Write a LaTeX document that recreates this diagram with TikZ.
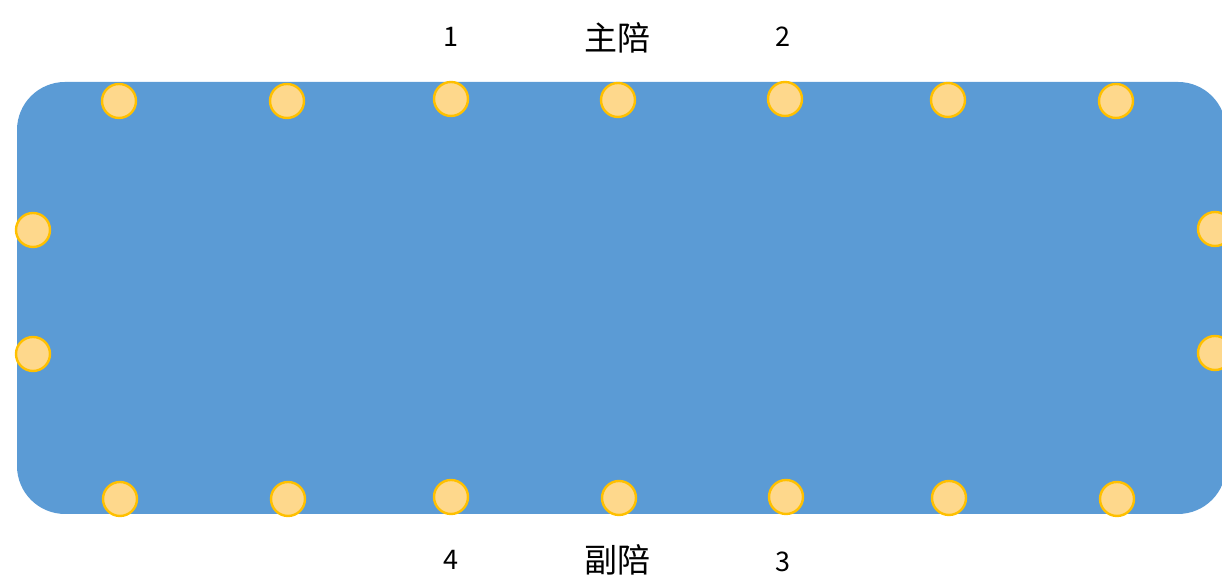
\documentclass[tikz,border=0pt]{standalone}
\usepackage{fontspec}
\newfontfamily\cjk{Noto Sans CJK SC}
\definecolor{tableblue}{RGB}{91,155,213}
\definecolor{seatfill}{RGB}{254,216,140}
\definecolor{seatline}{RGB}{255,192,0}
\tikzset{
  seat/.style={circle,fill=seatfill,draw=seatline,line width=1.2pt,minimum size=17pt,inner sep=0pt},
  nr/.style={font=\cjk\fontsize{13.5}{13.5}\selectfont},
  role/.style={font=\cjk\fontsize{16.5}{16.5}\selectfont}
}
\begin{document}
\begin{tikzpicture}[x=0.5pt,y=0.5pt]
  \useasboundingbox (0,0) rectangle (1222,576);
  \clip (0,0) rectangle (1222,576);
  % table
  \fill[tableblue,rounded corners=24pt] (17,62) rectangle (1226,494);
  % seats along the top
  \node[seat] (t1) at (119,475) {};
  \node[seat] (t2) at (287,475) {};
  \node[seat] (t3) at (451,477) {};
  \node[seat] (t4) at (618,476) {};
  \node[seat] (t5) at (785,477) {};
  \node[seat] (t6) at (948,476) {};
  \node[seat] (t7) at (1116,475) {};
  % seats along the bottom
  \node[seat] (b1) at (120,77) {};
  \node[seat] (b2) at (288,77) {};
  \node[seat] (b3) at (451,79) {};
  \node[seat] (b4) at (619,78) {};
  \node[seat] (b5) at (786,79) {};
  \node[seat] (b6) at (949,78) {};
  \node[seat] (b7) at (1117,77) {};
  % seats at the ends
  \node[seat] (l1) at (33,346) {};
  \node[seat] (l2) at (33,222) {};
  \node[seat] (r1) at (1215,347) {};
  \node[seat] (r2) at (1215,223) {};
  % labels
  \draw
    (451,539) node[nr] (n1){1}
    (617,538) node[role] (host){主陪}
    (783,539) node[nr] (n2){2}
    (451,16) node[nr] (n4){4}
    (617,16) node[role] (cohost){副陪}
    (783,14) node[nr] (n3){3};
\end{tikzpicture}
\end{document}
